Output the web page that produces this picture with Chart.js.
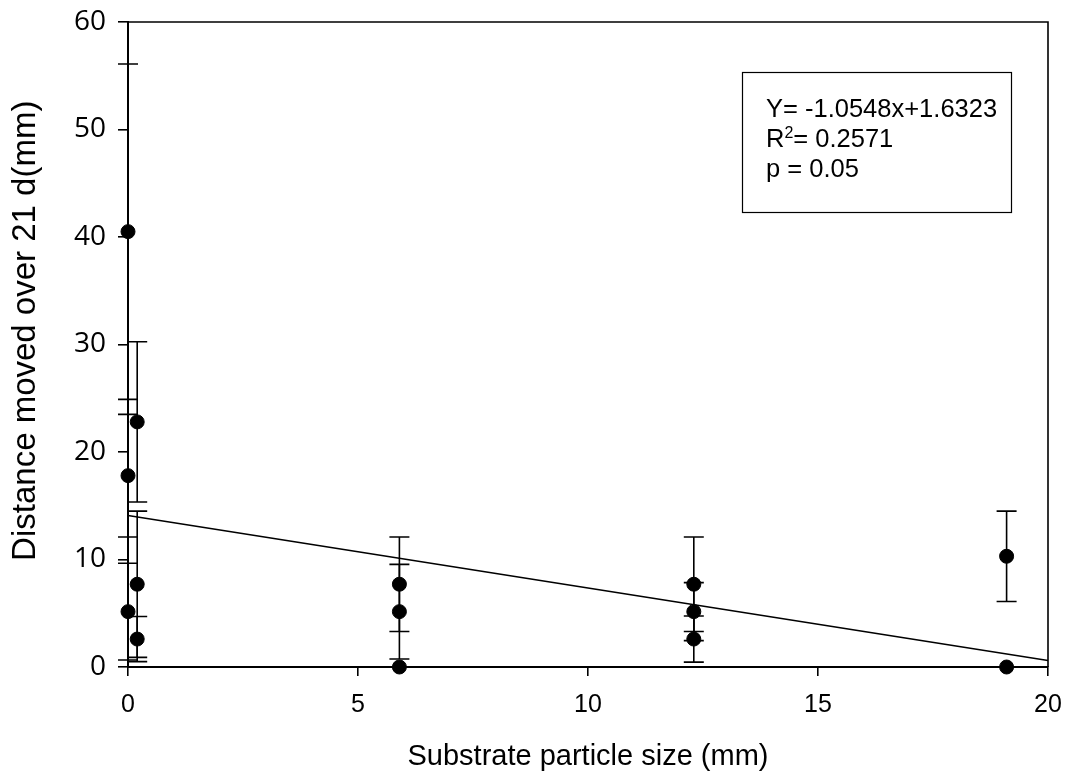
<!DOCTYPE html>
<html>
<head>
<meta charset="utf-8">
<script src="https://cdn.jsdelivr.net/npm/chart.js@4.4.1/dist/chart.umd.min.js"></script>
<style>
    html, body { margin: 0; padding: 0; background: #fff; }
    #wrap { width: 1067px; height: 774px; position: relative; }
</style>
</head>
<body>
<div id="wrap"><canvas id="chart"></canvas></div>
<script>
// ==================== DATA ====================
// particle size (mm), mean distance (mm) and error bar half-length
const PARTICLE_SIZE = [0, 0, 0, 0.2, 0.2, 0.2, 5.9, 5.9, 5.9, 12.3, 12.3, 12.3, 19.1, 19.1];
const DISTANCE = [40.5, 17.8, 5.15, 22.8, 7.7, 2.6, 7.7, 5.15, 0, 7.7, 5.15, 2.6, 10.3, 0];
const ERROR = [15.6, 5.7, 4.5, 7.45, 6.8, 2.1, 4.4, 4.4, 0, 4.4, 2.7, 2.15, 4.2, 0];

// fitted line end points
const FIT_X = [0, 20];
const FIT_Y = [14.1, 0.6];

const X_TICKS = [0, 5, 10, 15, 20];
const Y_TICKS = [0, 10, 20, 30, 40, 50, 60];

const STATS_LINES = ['Y= -1.0548x+1.6323', 'R|2|= 0.2571', 'p = 0.05'];

const ARIAL = "'Liberation Sans', Arial, sans-serif";

// error bars, drawn through the scales before the points
const errorBars = {
    id: 'errorBars',
    beforeDatasetsDraw(chart) {
        const { ctx, scales: { x, y } } = chart;
        ctx.save();
        ctx.strokeStyle = '#000';
        ctx.lineWidth = 1.6;
        PARTICLE_SIZE.forEach((v, i) => {
            if (!ERROR[i]) return;
            const px = x.getPixelForValue(v);
            const top = y.getPixelForValue(DISTANCE[i] + ERROR[i]);
            const bot = y.getPixelForValue(Math.max(0, DISTANCE[i] - ERROR[i]));
            ctx.beginPath();
            ctx.moveTo(px, top); ctx.lineTo(px, bot);
            ctx.moveTo(px - 10, top); ctx.lineTo(px + 10, top);
            ctx.moveTo(px - 10, bot); ctx.lineTo(px + 10, bot);
            ctx.stroke();
        });
        ctx.restore();
    },
};

// frame round the plot area + the stats box
const frameAndBox = {
    id: 'frameAndBox',
    afterDraw(chart) {
        const { ctx, chartArea: a } = chart;
        ctx.save();
        ctx.strokeStyle = '#000';
        ctx.lineWidth = 1.6;
        ctx.beginPath();
        ctx.moveTo(a.left, a.top); ctx.lineTo(a.right, a.top); ctx.lineTo(a.right, a.bottom);
        ctx.stroke();

        ctx.lineWidth = 1.2;
        ctx.strokeRect(742.5, 72.5, 269, 140);

        ctx.fillStyle = '#000';
        ctx.textBaseline = 'alphabetic';
        ctx.textAlign = 'left';
        const tx = 766;
        let ty = 117;
        STATS_LINES.forEach(line => {
            const parts = line.split('|');
            let cx = tx;
            parts.forEach((p, k) => {
                if (k === 1) {
                    ctx.font = `16px ${ARIAL}`;
                    ctx.fillText(p, cx, ty - 9);
                } else {
                    ctx.font = `25.5px ${ARIAL}`;
                    ctx.fillText(p, cx, ty);
                }
                cx += ctx.measureText(p).width;
            });
            ty += 30;
        });
        ctx.restore();
    },
};

new Chart(document.getElementById('chart'), {
    data: {
        datasets: [
            {
                type: 'line',
                data: FIT_X.map((v, i) => ({ x: v, y: FIT_Y[i] })),
                borderColor: '#000',
                borderWidth: 1.5,
                pointRadius: 0,
                clip: false,
            },
            {
                type: 'scatter',
                data: PARTICLE_SIZE.map((v, i) => ({ x: v, y: DISTANCE[i] })),
                backgroundColor: '#000',
                borderColor: '#000',
                pointRadius: 7,
                clip: false,
            },
        ],
    },
    options: {
        responsive: true,
        maintainAspectRatio: false,
        animation: false,
        layout: { padding: { top: 22, right: 19, left: 0, bottom: 0 } },
        plugins: { legend: { display: false }, tooltip: { enabled: false } },
        scales: {
            x: {
                type: 'linear',
                min: 0, max: 20,
                afterBuildTicks: s => { s.ticks = X_TICKS.map(v => ({ value: v })); },
                afterFit: s => { s.height = 107; s.paddingLeft = 0; s.paddingRight = 0; },
                border: { color: '#000', width: 2 },
                grid: { drawOnChartArea: false, tickLength: 9, color: '#000', lineWidth: 1.6 },
                ticks: { color: '#000', padding: 14, font: { family: ARIAL, size: 25 } },
                title: {
                    display: true,
                    text: 'Substrate particle size (mm)',
                    color: '#000',
                    padding: 0,
                    font: { family: ARIAL, size: 29 },
                },
            },
            y: {
                type: 'linear',
                min: 0, max: 60,
                afterBuildTicks: s => { s.ticks = Y_TICKS.map(v => ({ value: v })); },
                afterFit: s => { s.width = 128; s.paddingTop = 0; s.paddingBottom = 0; },
                border: { color: '#000', width: 2 },
                grid: { drawOnChartArea: false, tickLength: 10, color: '#000', lineWidth: 1.6 },
                ticks: { color: '#000', padding: 12, font: { family: "'Open Sans', sans-serif", size: 28 } },
                title: {
                    display: true,
                    text: '   Distance moved over 21 d(mm)',
                    color: '#000',
                    padding: 6,
                    font: { family: ARIAL, size: 33 },
                },
            },
        },
    },
    plugins: [errorBars, frameAndBox],
});
</script>
</body>
</html>
